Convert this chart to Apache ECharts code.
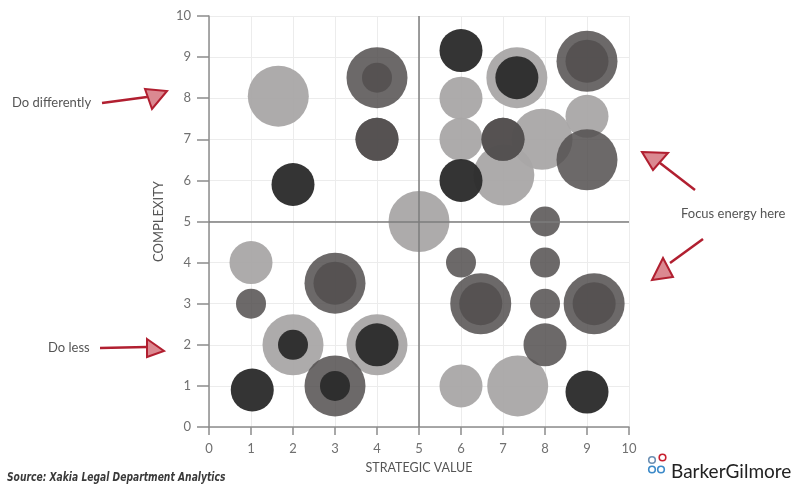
<!DOCTYPE html>
<html>
<head>
<meta charset="utf-8">
<title>Strategic value vs complexity</title>
<script src="https://cdn.jsdelivr.net/npm/echarts@6/dist/echarts.min.js"></script>
<style>
  html, body { margin: 0; padding: 0; background: #fff; }
  #chart { width: 800px; height: 489px; }
</style>
</head>
<body>
<div id="chart"></div>
<script>
// [x = strategic value, y = complexity, size class]
var lightItems = [
    [1.65, 8.05, 3], [5, 5, 3], [6, 8, 2], [6, 7, 2], [7.02, 6.13, 3], [7.93, 7, 3],
    [9, 7.56, 2], [1, 4, 2], [2, 2, 3], [4, 2, 3], [6, 1, 2], [7.35, 1, 3], [7.33, 8.5, 3]
];
var darkItems = [
    [4, 8.5, 3], [9, 8.9, 3], [9, 6.5, 3], [3, 3.5, 3], [3, 1, 3], [6.47, 3, 3], [9.17, 3, 3],
    [1, 3, 1], [6, 4, 1], [8, 4, 1], [8, 3, 1], [8, 5, 1], [8, 2, 2], [4, 7, 2], [7, 7, 2]
];
var darkOverlapItems = [
    [4, 8.5, 1], [9, 8.9, 2], [3, 3.5, 2], [6.47, 3, 2], [9.17, 3, 2], [4, 7, 2], [7, 7, 2]
];
var blackItems = [
    [6, 9.16, 2], [7.33, 8.5, 2], [6, 6, 2], [2, 5.9, 2], [2, 2, 1], [4, 2, 2],
    [1.03, 0.9, 2], [3, 1, 1], [9, 0.85, 2]
];
var quadrantSplit = [5, 5];
var axisTicks = [0, 10, 1];

var SIZE_PX = { 1: 30, 2: 43, 3: 61 };
var FONT = 'Lato, "Open Sans", sans-serif';
var RED = '#b11f30';

function bubbleSeries(name, items, color, opacity) {
    return {
        name: name,
        type: 'scatter',
        data: items,
        symbolSize: function (v) { return SIZE_PX[v[2]]; },
        itemStyle: { color: color, opacity: opacity },
        emphasis: { disabled: true },
        silent: true
    };
}

function arrow(shaft, head) {
    return [
        { type: 'polyline', shape: { points: shaft }, style: { stroke: RED, lineWidth: 2.5, fill: null }, silent: true },
        { type: 'polygon', shape: { points: head }, style: { stroke: RED, lineWidth: 2, fill: 'rgba(190,40,55,0.55)' }, silent: true }
    ];
}

var chart = echarts.init(document.getElementById('chart'));

var graphics = [];
graphics.push({ type: 'text', left: 12, top: 96, style: { text: 'Do differently', font: '13px ' + FONT, fill: '#555' } });
graphics.push({ type: 'text', left: 48, top: 341, style: { text: 'Do less', font: '13px ' + FONT, fill: '#555' } });
graphics.push({ type: 'text', left: 681, top: 207, style: { text: 'Focus energy here', font: '13px ' + FONT, fill: '#555' } });
graphics = graphics.concat(
    arrow([[102, 103], [147, 97]], [[145, 89], [167, 91], [152, 109]]),
    arrow([[100, 348], [147, 347]], [[147, 339], [164, 351], [147, 357]]),
    arrow([[695, 190], [660, 163]], [[642, 152], [668, 153], [653, 170]]),
    arrow([[703, 239], [670, 263]], [[652, 280], [673, 277], [663, 258]])
);
// condensed italic source line
graphics.push({
    type: 'text', x: 7, y: 472, scaleX: 0.85,
    style: { text: 'Source: Xakia Legal Department Analytics', font: 'italic bold 12px "DejaVu Sans Condensed", sans-serif', fill: '#3a3a3a', verticalAlign: 'top' }
});
// BarkerGilmore logo
[[652, 460, '#6b8fb3'], [662.5, 457.5, '#c8202f'], [652, 469.5, '#3c8ac9'], [661, 469.5, '#3c8ac9']].forEach(function (c) {
    graphics.push({ type: 'circle', shape: { cx: c[0], cy: c[1], r: 3.3 }, style: { fill: '#fff', stroke: c[2], lineWidth: 1.6 }, silent: true });
});
graphics.push({ type: 'text', left: 671, top: 462, style: { text: 'BarkerGilmore', font: '19px ' + FONT, fill: '#222' } });

var option = {
    backgroundColor: '#fff',
    animation: false,
    grid: { left: 209, right: 171, top: 16, bottom: 62 },
    xAxis: {
        type: 'value', min: axisTicks[0], max: axisTicks[1], interval: axisTicks[2],
        name: 'STRATEGIC VALUE', nameLocation: 'middle', nameGap: 34,
        nameTextStyle: { fontFamily: FONT, fontSize: 12.5, color: '#555' },
        axisLine: { show: true, lineStyle: { color: '#8c8c8c', width: 1.5 } },
        axisTick: { show: true, length: 8, lineStyle: { color: '#8c8c8c', width: 1.5 } },
        axisLabel: { margin: 15, fontFamily: FONT, fontSize: 13, color: '#707070' },
        splitLine: { show: true, lineStyle: { color: '#ececec', width: 1 } }
    },
    yAxis: {
        type: 'value', min: axisTicks[0], max: axisTicks[1], interval: axisTicks[2],
        name: 'COMPLEXITY', nameLocation: 'middle', nameGap: 40,
        nameTextStyle: { fontFamily: FONT, fontSize: 13, color: '#555' },
        axisLine: { show: true, lineStyle: { color: '#8c8c8c', width: 1.5 } },
        axisTick: { show: true, length: 12, lineStyle: { color: '#8c8c8c', width: 1.5 } },
        axisLabel: { margin: 18, fontFamily: FONT, fontSize: 13, color: '#707070' },
        splitLine: { show: true, lineStyle: { color: '#ececec', width: 1 } }
    },
    series: [
        bubbleSeries('light', lightItems, '#a9a7a7', 0.95),
        bubbleSeries('dark', darkItems, '#524f4f', 0.85),
        bubbleSeries('darkOverlap', darkOverlapItems, '#524f4f', 0.85),
        bubbleSeries('black', blackItems, '#2c2c2c', 0.96),
        {
            name: 'quadrants',
            type: 'scatter',
            data: [],
            z: 5,
            markLine: {
                silent: true,
                symbol: 'none',
                label: { show: false },
                lineStyle: { color: '#7c7c7c', width: 1.5, type: 'solid' },
                data: [{ xAxis: quadrantSplit[0] }, { yAxis: quadrantSplit[1] }]
            }
        }
    ],
    graphic: graphics
};

chart.setOption(option);
window.addEventListener('resize', function () { chart.resize(); });
</script>
</body>
</html>
